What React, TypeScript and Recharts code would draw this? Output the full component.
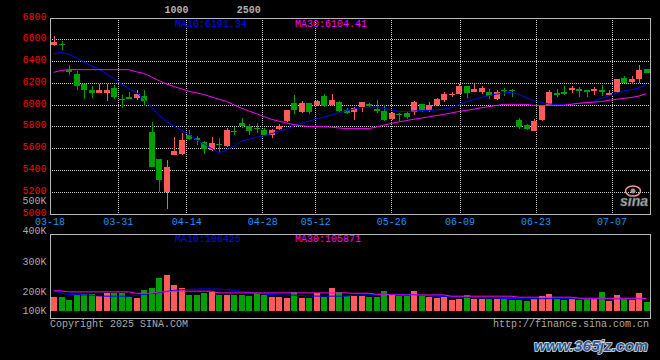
import React from 'react';
import { ComposedChart, Bar, Line, XAxis, YAxis, CartesianGrid, ReferenceArea, Cell } from 'recharts';

const dates = [
  '03-18','03-19','03-20','03-21','03-24','03-25','03-26','03-27','03-28','03-31',
  '04-01','04-02','04-03','04-07','04-08','04-09','04-10','04-11','04-14','04-15',
  '04-16','04-17','04-18','04-21','04-22','04-23','04-24','04-25','04-28','04-29',
  '04-30','05-06','05-07','05-08','05-09','05-12','05-13','05-14','05-15','05-16',
  '05-19','05-20','05-21','05-22','05-23','05-26','05-27','05-28','05-29','05-30',
  '06-03','06-04','06-05','06-06','06-09','06-10','06-11','06-12','06-13','06-16',
  '06-17','06-18','06-19','06-20','06-23','06-24','06-25','06-26','06-27','06-30',
  '07-01','07-02','07-03','07-04','07-07','07-08','07-09','07-10','07-11','07-14',
];

const openP = [
  6555,6565,6326,6283,6191,6142,6111,6111,6157,6056,
  6075,6069,6084,5750,5502,5199,5542,5548,5729,5695,
  5658,5591,5647,5625,5762,5839,5812,5793,5769,5723,
  5781,5851,6017,5937,6017,5998,6081,6001,6026,5952,
  5937,5980,6010,5962,5946,5870,5922,5928,5937,6007,
  5952,5998,6051,6090,6106,6173,6120,6124,6118,6056,
  6142,6136,5861,5817,5762,5861,5998,6115,6120,6139,
  6152,6139,6127,6139,6090,6120,6249,6212,6237,6329,
];
const highP = [
  6631,6589,6366,6313,6198,6173,6191,6198,6188,6090,
  6118,6142,6136,5842,5505,5493,5704,5744,5769,5720,
  5670,5707,5702,5790,5799,5879,5827,5839,5793,5784,
  5830,5955,6090,6038,6020,6044,6099,6099,6040,5977,
  5980,6030,6023,6044,5998,5937,5924,5937,6035,6010,
  6026,6065,6118,6118,6198,6176,6198,6176,6152,6142,
  6161,6152,5879,5830,5870,6005,6139,6152,6173,6176,
  6166,6142,6166,6182,6139,6243,6265,6265,6366,6335,
];
const lowP = [
  6546,6510,6274,6142,6053,6065,6108,6038,6060,5974,
  6053,6044,5995,5430,5199,5046,5538,5540,5683,5634,
  5551,5576,5569,5615,5723,5790,5729,5744,5720,5698,
  5775,5845,5922,5930,5918,5990,5983,5995,5940,5920,
  5867,5937,5985,5928,5855,5861,5851,5870,5906,5937,
  5937,5995,6029,6075,6099,6063,6118,6106,6060,6050,
  6084,6075,5781,5769,5758,5855,5992,6075,6090,6115,
  6075,6075,6097,6084,6088,6115,6200,6194,6200,6295,
];
const closeP = [
  6579,6549,6304,6176,6136,6111,6136,6142,6075,6047,
  6056,6102,6035,5432,5312,5429,5576,5677,5689,5683,
  5597,5652,5637,5769,5757,5805,5760,5781,5723,5771,
  5812,5952,5952,6017,5937,6035,5992,6044,5946,5928,
  5977,6026,5989,5943,5861,5928,5916,5891,6032,5959,
  6001,6053,6099,6099,6173,6108,6145,6154,6081,6120,
  6130,6127,5799,5781,5851,5998,6120,6097,6106,6157,
  6133,6120,6145,6120,6111,6237,6207,6237,6322,6299,
];
const ma10 = [
  6473,6485,6467,6436,6398,6361,6334,6288,6242,6196,
  6151,6116,6058,5985,5906,5854,5807,5769,5732,5681,
  5645,5603,5562,5585,5622,5668,5686,5704,5718,5738,
  5760,5778,5810,5833,5853,5874,5890,5909,5928,5948,
  5963,5977,5980,5982,5971,5957,5942,5940,5946,5950,
  5952,5956,5962,5976,6003,6028,6052,6070,6087,6101,
  6111,6118,6099,6067,6040,6023,6010,6007,6007,6010,
  6014,6014,6035,6063,6085,6109,6130,6141,6156,6191.34,
];
const ma30 = [
  6301,6318,6326,6326,6326,6326,6326,6326,6326,6326,
  6326,6306,6292,6260,6225,6195,6171,6150,6127,6113,
  6097,6076,6055,6035,6003,5973,5946,5922,5895,5870,
  5853,5836,5821,5810,5805,5803,5801,5798,5790,5784,
  5784,5784,5784,5798,5816,5831,5846,5858,5870,5881,
  5892,5904,5914,5928,5941,5951,5962,5975,5986,5996,
  6007,6007,6007,6006,5998,5996,5996,5998,5998,6007,
  6017,6023,6027,6033,6044,6053,6062,6070,6083,6104.41,
];
// volumes in thousands (K)
const volK = [
  124,124,95,142,148,148,130,160,154,160,
  124,115,184,201,290,317,228,201,139,139,
  160,166,139,139,139,139,130,154,135,122,
  122,115,166,115,115,154,124,201,166,133,
  130,130,122,122,175,136,134,134,175,134,
  122,115,120,95,104,137,104,104,104,104,
  104,95,95,86,104,130,148,104,95,104,
  95,104,104,166,86,139,104,95,157,78,
];
const volMa10K = [
  175,157,142,142,139,137,130,128,128,128,
  128,135,144,151,159,170,179,184,188,191,
  192,192,191,186,181,170,161,155,148,142,
  139,137,137,134,130,129,128,128,128,128,
  137,139,141,143,145,145,145,143,142,137,
  132,127,125,123,122,119,116,114,113,111,
  109,107,106,105,105,105,106,106,106,106,
  105,105,105,106,105,105,105,105,106,106.425,
];
const volMa30K = [
  175,175,166,166,166,166,166,166,166,166,
  166,154,154,154,166,166,172,172,172,172,
  172,172,157,157,157,157,157,157,157,157,
  157,157,157,157,157,157,157,157,157,157,
  154,154,154,145,145,139,139,139,139,139,
  139,139,139,128,128,128,128,128,128,128,
  128,128,119,119,119,119,119,119,119,119,
  110,110,110,110,110,110,110,110,110,105.871,
];

const labelDates = ['03-18','03-31','04-14','04-28','05-12','05-26','06-09','06-23','07-07'];
const priceTicks = [5000,5200,5400,5600,5800,6000,6200,6400,6600,6800];
const volAxisLabels = ['400K','300K','200K','100K'];
const priceVolLabel = '500K';
const headerNumbers = ['1000','2500'];

const UP = '#ff5a5a';
const DOWN = '#00a000';
const MONO = '"Liberation Mono", "DejaVu Sans Mono", monospace';
const GRID = '#c8c8c8';
const BORDER = '#b8b8b8';
const GRAYTXT = '#aaaaaa';

const N = dates.length;
const rows = dates.map((d, i) => ({
  x: i + 0.5,
  date: d,
  open: openP[i],
  high: highP[i],
  low: lowP[i],
  close: closeP[i],
  ma10: ma10[i],
  ma30: ma30[i],
  vol: volK[i] * 1000,
  vma10: volMa10K[i] * 1000,
  vma30: volMa30K[i] * 1000,
  up: closeP[i] >= openP[i],
}));

// Sina spaces the date grid over (N-1) intervals while candles use N slots
const gridX = labelDates.map((d) => (dates.indexOf(d) * N) / (N - 1));

const VOL_MAX = 678000;
const VOL_MIN = -65000;
const volGrid = [0.25, 0.5, 0.75].map((q) => VOL_MIN + (VOL_MAX - VOL_MIN) * q);

const Candle = (props: any) => {
  const { x, y, width, height, payload } = props;
  if (x == null || y == null) return null;
  const { open, close, high, low } = payload;
  const color = close >= open ? UP : DOWN;
  const top = Math.min(y, y + height);
  const h = Math.abs(height);
  const ppu = h / (high - low || 1);
  const yO = top + (high - open) * ppu;
  const yC = top + (high - close) * ppu;
  const bodyTop = Math.min(yO, yC);
  const bodyH = Math.max(1, Math.abs(yO - yC));
  const cx = Math.round(x + width / 2) + 0.5;
  return (
    <g>
      <line x1={cx} x2={cx} y1={top} y2={top + h} stroke={color} strokeWidth={1} shapeRendering="crispEdges" />
      <rect x={Math.round(x)} y={bodyTop} width={Math.round(width)} height={bodyH} fill={color} shapeRendering="crispEdges" />
    </g>
  );
};

const PriceTick = (props: any) => {
  const { x, y, payload } = props;
  return (
    <text x={x - 3.5} y={y + 1.6} textAnchor="end" fill="#ff0000" fontSize={10} fontFamily={MONO}>
      {payload.value}
    </text>
  );
};

const DateTick = (props: any) => {
  const { x, y, payload } = props;
  const idx = Math.round((payload.value * (N - 1)) / N);
  return (
    <text x={x} y={y + 10.7} textAnchor="middle" fill="#1e90ff" fontSize={10} fontFamily={MONO}>
      {dates[idx]}
    </text>
  );
};

export default function App() {
  return (
    <div style={{ position: 'fixed', left: 0, top: 0, width: 660, height: 360, background: '#000', overflow: 'hidden' }}>
      <div style={{ position: 'absolute', left: 0, top: 0 }}>
        <ComposedChart width={660} height={232} data={rows} margin={{ top: 18, right: 10, bottom: 0, left: 0 }}>
          <CartesianGrid stroke={GRID} strokeDasharray="1 1" shapeRendering="crispEdges" />
          <XAxis
            dataKey="x"
            type="number"
            domain={[0, N]}
            ticks={gridX}
            interval={0}
            height={18}
            axisLine={false}
            tickLine={false}
            tickSize={0}
            tickMargin={0}
            tick={DateTick}
            allowDataOverflow
          />
          <YAxis
            type="number"
            domain={[5000, 6800]}
            ticks={priceTicks}
            interval={0}
            width={50}
            axisLine={false}
            tickLine={false}
            tickSize={0}
            tickMargin={0}
            tick={PriceTick}
            allowDataOverflow
          />
          <Bar dataKey={(d: any) => [d.low, d.high]} barSize={6} shape={Candle} isAnimationActive={false} />
          <Line dataKey="ma10" stroke="#0000ff" strokeWidth={1} dot={false} type="linear" isAnimationActive={false} />
          <Line dataKey="ma30" stroke="#ff00ff" strokeWidth={1} dot={false} type="linear" isAnimationActive={false} />
          <ReferenceArea x1={0} x2={N} y1={5000} y2={6800} fill="none" stroke={BORDER} strokeWidth={1} shapeRendering="crispEdges" ifOverflow="visible" />
        </ComposedChart>
      </div>
      <div style={{ position: 'absolute', left: 0, top: 0 }}>
        <ComposedChart width={660} height={330} data={rows} margin={{ top: 234, right: 10, bottom: 12, left: 0 }}>
          <CartesianGrid stroke={GRID} strokeDasharray="1 1" shapeRendering="crispEdges" />
          <XAxis
            dataKey="x"
            type="number"
            domain={[0, N]}
            ticks={gridX}
            interval={0}
            height={0}
            axisLine={false}
            tickLine={false}
            tick={false}
            allowDataOverflow
          />
          <YAxis
            type="number"
            domain={[VOL_MIN, VOL_MAX]}
            ticks={volGrid}
            interval={0}
            width={50}
            axisLine={false}
            tickLine={false}
            tick={false}
            allowDataOverflow
          />
          <Bar dataKey="vol" barSize={6} isAnimationActive={false} shapeRendering="crispEdges">
            {rows.map((r, i) => (
              <Cell key={i} fill={r.up ? UP : DOWN} />
            ))}
          </Bar>
          <Line dataKey="vma10" stroke="#0000ff" strokeWidth={1} dot={false} type="linear" isAnimationActive={false} />
          <Line dataKey="vma30" stroke="#ff00ff" strokeWidth={1} dot={false} type="linear" isAnimationActive={false} />
          <ReferenceArea x1={0} x2={N} y1={VOL_MIN} y2={VOL_MAX} fill="none" stroke={BORDER} strokeWidth={1} shapeRendering="crispEdges" ifOverflow="visible" />
        </ComposedChart>
      </div>
      <svg width={660} height={360} style={{ position: 'absolute', left: 0, top: 0, pointerEvents: 'none' }}>
        <g fontFamily={MONO} fontSize={10}>
          <text x={164.5} y={13.3} fill="#b0b0b0" fontWeight="bold">{headerNumbers[0]}</text>
          <text x={236.7} y={13.3} fill="#b0b0b0" fontWeight="bold">{headerNumbers[1]}</text>
          <text x={175} y={27.3} fill="#0000ff">{`MA10:${ma10[N - 1].toFixed(2)}`}</text>
          <text x={295} y={27.3} fill="#ff00ff">{`MA30:${ma30[N - 1].toFixed(2)}`}</text>
          <text x={175} y={241.7} fill="#0000ff">{`MA10:${Math.round(volMa10K[N - 1] * 1000)}`}</text>
          <text x={295} y={241.7} fill="#ff00ff">{`MA30:${Math.round(volMa30K[N - 1] * 1000)}`}</text>
          <text x={46.5} y={204.2} fill={GRAYTXT} textAnchor="end">{priceVolLabel}</text>
          <text x={46.5} y={234} fill={GRAYTXT} textAnchor="end">{volAxisLabels[0]}</text>
          <text x={46.5} y={264.7} fill={GRAYTXT} textAnchor="end">{volAxisLabels[1]}</text>
          <text x={46.5} y={294.7} fill={GRAYTXT} textAnchor="end">{volAxisLabels[2]}</text>
          <text x={46.5} y={314.3} fill={GRAYTXT} textAnchor="end">{volAxisLabels[3]}</text>
          <text x={50} y={326.7} fill={GRAYTXT}>Copyright 2025 SINA.COM</text>
          <text x={649} y={326.7} fill={GRAYTXT} textAnchor="end">http://finance.sina.com.cn</text>
        </g>
        <g>
          <ellipse cx={633} cy={191} rx={7.5} ry={5} fill="none" stroke="#ff9a9a" strokeWidth={1.5} />
          <circle cx={633} cy={191} r={2.5} fill="#9a9a9a" />
          <text x={620} y={206} fontFamily='"Liberation Sans", Arial, sans-serif' fontWeight="bold" fontStyle="italic" fontSize={14} fill="#b4b4b4" stroke="#606060" strokeWidth={0.6}>sina</text>
        </g>
        <text x={534} y={351} fontFamily='"Liberation Sans", Arial, sans-serif' fontWeight="bold" fontStyle="italic" fontSize={15.5} fill="#35578a" stroke="#dfe8f5" strokeWidth={1.5} paintOrder="stroke">www.365jz.com</text>
      </svg>
    </div>
  );
}
